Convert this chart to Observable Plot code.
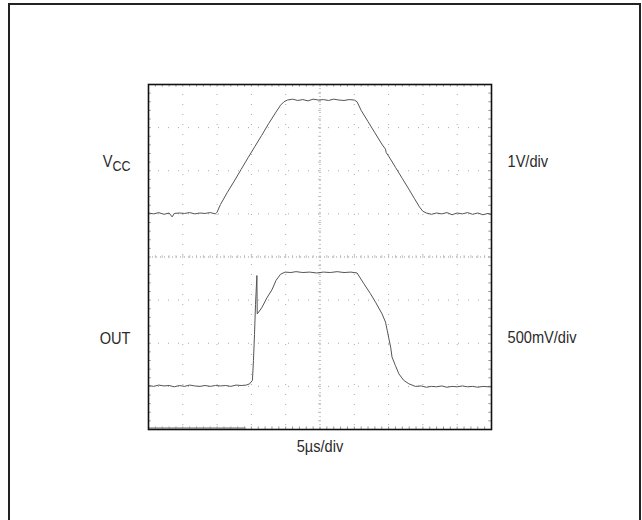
<!DOCTYPE html>
<html>
<head>
<meta charset="utf-8">
<script src="https://cdn.jsdelivr.net/npm/d3@7"></script>
<script src="https://cdn.jsdelivr.net/npm/@observablehq/plot@0.6"></script>
<style>
  html, body { margin: 0; padding: 0; background: #fff; }
  #wrap { position: relative; width: 642px; height: 520px; overflow: hidden; }
  #border { position: absolute; left: 8px; top: 3px; width: 633px; height: 530px; box-sizing: border-box; border: 2px solid #222; pointer-events: none; }
</style>
</head>
<body>
<div id="wrap"><div id="chart"></div><div id="border"></div></div>
<script>
// Time axis in scope divisions (5 µs/div), vertical in screen divisions
const vccTime  = [0,0.15,0.3,0.45,0.6,0.69,0.75,0.9,1.05,1.2,1.35,1.5,1.65,1.8,1.95,
  2.0,2.1,2.3,2.5,2.7,2.9,3.1,3.3,3.5,3.7,3.85,3.95,4.05,
  4.2,4.35,4.5,4.65,4.8,4.95,5.1,5.25,5.4,5.55,5.7,5.85,6.0,6.08,
  6.2,6.4,6.6,6.8,6.91,6.93,7.0,7.2,7.4,7.6,7.75,7.9,8.0,8.1,
  8.25,8.4,8.55,8.7,8.85,9.0,9.15,9.3,9.45,9.6,9.75,9.9,10];
const vccLevel = [5.02,5.0,5.03,4.99,5.02,4.93,5.01,5.02,5.01,5.03,5.0,5.02,5.01,5.03,5.0,
  5.04,5.22,5.5,5.76,6.03,6.3,6.56,6.82,7.09,7.34,7.52,7.6,7.64,
  7.66,7.63,7.65,7.62,7.66,7.64,7.65,7.63,7.66,7.64,7.63,7.65,7.64,7.6,
  7.4,7.14,6.88,6.62,6.5,6.42,6.34,6.08,5.82,5.56,5.36,5.16,5.06,5.02,
  4.99,5.02,5.0,5.03,4.98,5.02,5.0,5.03,4.99,5.02,4.98,5.01,4.98];

const outTime  = [0,0.15,0.3,0.45,0.6,0.75,0.9,1.05,1.2,1.35,1.5,1.65,1.8,1.95,2.1,2.25,2.4,2.55,2.7,2.85,2.95,3.03,
  3.06,3.09,3.12,3.16,3.17,3.3,3.45,3.6,3.72,3.85,3.98,
  4.15,4.3,4.5,4.7,4.9,5.1,5.3,5.5,5.7,5.9,6.08,
  6.28,6.47,6.62,6.81,6.91,6.96,7.01,7.06,7.1,7.2,7.3,7.44,7.59,7.78,
  7.95,8.1,8.25,8.4,8.55,8.7,8.85,9.0,9.15,9.3,9.45,9.6,9.75,9.9,10];
const outLevel = [1.02,1.0,1.03,1.01,1.02,0.99,1.02,1.0,1.03,1.01,1.0,1.02,1.0,1.02,1.01,1.02,1.0,1.03,1.02,1.03,1.06,1.14,
  1.6,2.2,2.9,3.57,2.68,2.82,3.05,3.24,3.46,3.6,3.65,
  3.64,3.66,3.64,3.65,3.63,3.65,3.64,3.66,3.64,3.65,3.63,
  3.38,3.15,2.95,2.68,2.49,2.3,2.1,1.91,1.68,1.48,1.29,1.14,1.06,1.0,
  1.01,0.98,1.0,0.99,1.01,0.98,1.0,0.99,1.01,0.99,1.0,0.98,1.0,0.99,0.99];

const channelLabels = ["VCC", "OUT"];
const scaleLabels = ["1V/div", "500mV/div"];
const timeLabel = "5µs/div";

const majorX = [1,2,3,4,6,7,8,9];
const majorY = [1,2,3,5,6,7];
const minorX = d3.range(0, 10.001, 0.2);
const minorY = d3.range(0, 8.001, 0.2);

const vccRows = vccTime.map((t, i) => ({t, v: vccLevel[i]}));
const outRows = outTime.map((t, i) => ({t, v: outLevel[i]}));

const font = "'Liberation Sans', Arial, sans-serif";
const labelStyle = {fontSize: 17, fill: "#2a2a2a", className: "lbl"};

const chart = Plot.plot({
  width: 642, height: 520,
  marginLeft: 148, marginRight: 151, marginTop: 84, marginBottom: 91,
  x: {domain: [0, 10], axis: null},
  y: {domain: [0, 8], axis: null},
  style: {fontFamily: font, background: "#fff"},
  marks: [
    Plot.ruleX(majorX, {stroke: "#aaa", strokeWidth: 1, strokeDasharray: "1,9"}),
    Plot.ruleY(majorY, {stroke: "#aaa", strokeWidth: 1, strokeDasharray: "1,9"}),
    Plot.ruleX([5], {stroke: "#999", strokeWidth: 1, strokeDasharray: "1,3"}),
    Plot.ruleY([4], {stroke: "#999", strokeWidth: 1, strokeDasharray: "1,3"}),
    Plot.ruleX(minorX, {y1: 3.97, y2: 4.03, stroke: "#bbb", strokeWidth: 1}),
    Plot.ruleY(minorY, {x1: 4.96, x2: 5.04, stroke: "#bbb", strokeWidth: 1}),
    Plot.ruleX(minorX, {y1: 0, y2: 0.06, stroke: "#999", strokeWidth: 1}),
    Plot.ruleX(minorX, {y1: 7.94, y2: 8, stroke: "#999", strokeWidth: 1}),
    Plot.ruleY(minorY, {x1: 0, x2: 0.08, stroke: "#999", strokeWidth: 1}),
    Plot.ruleY(minorY, {x1: 9.92, x2: 10, stroke: "#999", strokeWidth: 1}),
    Plot.ruleY([0], {x1: 0, x2: 2.85, dy: -1.5, stroke: "#999", strokeWidth: 1.5}),
    Plot.line(vccRows, {x: "t", y: "v", stroke: "#555", strokeWidth: 1}),
    Plot.line(outRows, {x: "t", y: "v", stroke: "#555", strokeWidth: 1}),
    Plot.frame({stroke: "#111", strokeWidth: 1.6}),
    Plot.text([channelLabels[0]], {y: 6.21, frameAnchor: "left", dx: -18, textAnchor: "end", ...labelStyle}),
    Plot.text([channelLabels[1]], {y: 2.1, frameAnchor: "left", dx: -18, textAnchor: "end", ...labelStyle}),
    Plot.text([scaleLabels[0]], {y: 6.21, frameAnchor: "right", dx: 16, textAnchor: "start", ...labelStyle}),
    Plot.text([scaleLabels[1]], {y: 2.14, frameAnchor: "right", dx: 16, textAnchor: "start", ...labelStyle}),
    Plot.text([timeLabel], {x: 5, frameAnchor: "bottom", dy: 22, ...labelStyle})
  ]
});
document.getElementById("chart").appendChild(chart);

// condensed lettering like the original, and subscript for V_CC
d3.select(chart).selectAll("g.lbl text").each(function() {
  const t = d3.select(this);
  const tr = t.attr("transform") || "";
  t.attr("transform", tr + " scale(0.86,1)");
  if (this.textContent === "VCC") {
    t.text("V");
    t.append("tspan").attr("dy", "0.24em").attr("font-size", "14.5").text("CC");
  }
});
</script>
</body>
</html>
